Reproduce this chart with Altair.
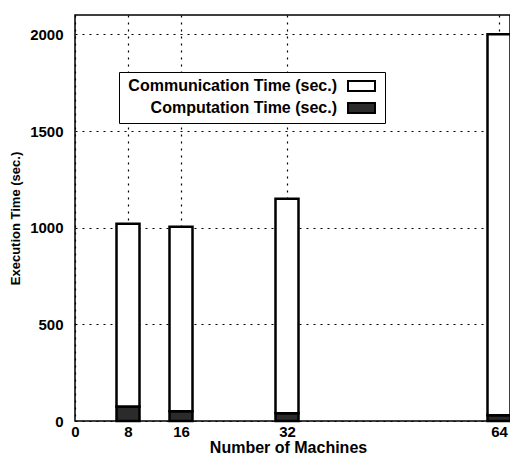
import altair as alt
import pandas as pd

machines = [8, 16, 32, 64]
computation = [75, 50, 40, 30]
communication = [945, 955, 1110, 1970]
series = ["Communication Time (sec.)", "Computation Time (sec.)"]
x_ticks = [0, 8, 16, 32, 64]
y_ticks = [0, 500, 1000, 1500, 2000]

rows = []
for m, cp, cm in zip(machines, computation, communication):
    rows.append({"machines": m, "series": series[1], "time": cp, "order": 0})
    rows.append({"machines": m, "series": series[0], "time": cm, "order": 1})
df = pd.DataFrame(rows)

FONT = "Liberation Sans"

chart = alt.Chart(df).mark_bar(size=23, stroke="black", strokeWidth=2.5).encode(
    x=alt.X(
        "machines:Q",
        scale=alt.Scale(domain=[0, 65.66], nice=False, zero=True, padding=0),
        axis=alt.Axis(
            values=x_ticks, title="Number of Machines", ticks=False, domain=False,
            format="d",
            labelFont=FONT, labelFontSize=15, labelFontWeight="bold", labelColor="black",
            labelPadding=3, labelFlush=False,
            titleFont=FONT, titleFontSize=16, titleFontWeight="bold", titleColor="black",
            titleX=213, titleY=31, titleAlign="center", titleBaseline="alphabetic",
            grid=True, gridColor="black", gridDash=[2, 5], gridWidth=1.2, gridOpacity=1,
        ),
    ),
    y=alt.Y(
        "sum(time):Q",
        stack="zero",
        scale=alt.Scale(domain=[0, 2100], nice=False, padding=0),
        axis=alt.Axis(
            values=y_ticks, title="Execution Time (sec.)", ticks=False, domain=False,
            format="d",
            labelFont=FONT, labelFontSize=15, labelFontWeight="bold", labelColor="black",
            labelPadding=12,
            titleFont=FONT, titleFontSize=13, titleFontWeight="bold", titleColor="black",
            titleX=-60, titleY=203, titleAngle=270, titleAlign="center", titleBaseline="middle",
            grid=True, gridColor="black", gridDash=[2, 5], gridWidth=1.2, gridOpacity=1,
        ),
    ),
    color=alt.Color(
        "series:N",
        scale=alt.Scale(domain=series, range=["white", "#2b2b2b"]),
        legend=alt.Legend(
            title=None, orient="none", legendX=44, legendY=57, direction="vertical",
            labelFont=FONT, labelFontSize=16, labelFontWeight="bold", labelColor="black",
            labelAlign="right", labelOffset=196, labelLimit=400,
            symbolType="M215,-5H242V5H215Z", symbolSize=4,
            symbolStrokeColor="black", symbolStrokeWidth=2, symbolOpacity=1,
            fillColor="white", strokeColor="black", padding=6, rowPadding=4,
        ),
    ),
    order=alt.Order("order:Q"),
).properties(
    width=435,
    height=406,
    padding={"left": 67, "top": 7, "right": 0, "bottom": 33},
    autosize=alt.AutoSizeParams(type="none"),
).configure_view(stroke="black", strokeWidth=1.5)

chart.save("out.html", embed_options={"renderer": "svg", "actions": False})
